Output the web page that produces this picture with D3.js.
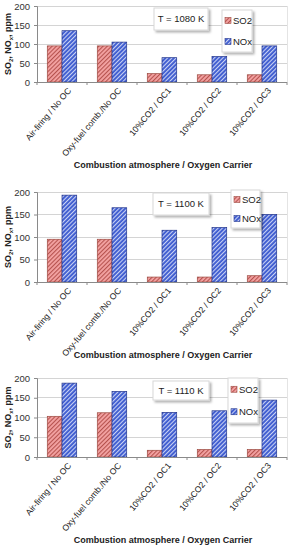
<!DOCTYPE html>
<html><head><meta charset="utf-8">
<script src="https://cdn.jsdelivr.net/npm/d3@7"></script>
<style>body{margin:0;background:#fff}svg{display:block}text{font-family:"Liberation Sans",Arial,sans-serif}</style>
</head><body>
<svg id="c" width="294" height="550"></svg>
<script>
const categories = ["Air-firing / No OC","Oxy-fuel comb./No OC","10%CO2 / OC1","10%CO2 / OC2","10%CO2 / OC3"];
const series = ["SO2","NOx"];
const temps = ["T = 1080 K","T = 1100 K","T = 1110 K"];
const so2_1080 = [95,95,22,19,19];
const nox_1080 = [135,105,64,67,95];
const so2_1100 = [95,95,11,11,14];
const nox_1100 = [193,165,115,121,150];
const so2_1110 = [103,112,17,19,19];
const nox_1110 = [187,166,113,117,144];
const yTicks = [0,50,100,150,200];

const panels = [
  {so2:so2_1080,nox:nox_1080,t:temps[0],top:6,bot:82,xt:168,tb:[154,8,54,22],lg:[222,10,30,42]},
  {so2:so2_1100,nox:nox_1100,t:temps[1],top:192,bot:282,xt:358,tb:[153,193,56,22],lg:[231,190,29,38]},
  {so2:so2_1110,nox:nox_1110,t:temps[2],top:378,bot:457,xt:543,tb:[153,381,56,19],lg:[228,378,30,45]}
];
const svg = d3.select("#c");
const defs = svg.append("defs");
function pat(id,bg,fg){
  const p = defs.append("pattern").attr("id",id).attr("patternUnits","userSpaceOnUse")
    .attr("width",3).attr("height",3).attr("patternTransform","rotate(45)");
  p.append("rect").attr("width",3).attr("height",3).attr("fill",bg);
  p.append("rect").attr("width",1.1).attr("height",3).attr("fill",fg);
}
pat("pS","#f4a3a3","#b5524e");
pat("pN","#3d5bd0","#c9d2f4");
const fills = {SO2:"url(#pS)",NOx:"url(#pN)"};
const strokes = {SO2:"#9b4a40",NOx:"#22348a"};
const filt = defs.append("filter").attr("id","sh").attr("x","-20%").attr("y","-20%").attr("width","150%").attr("height","150%");
filt.append("feDropShadow").attr("dx",2).attr("dy",2).attr("stdDeviation",1.2).attr("flood-color","#000").attr("flood-opacity",0.3);

const L = 37, R = 287;
panels.forEach(P=>{
  const g = svg.append("g");
  const x = d3.scaleBand().domain(categories).range([L,R]);
  const xs = d3.scaleBand().domain(series).range([0,x.bandwidth()]).paddingOuter(0.7).paddingInner(0);
  const y = d3.scaleLinear().domain([0,200]).range([P.bot,P.top]);
  g.append("g").selectAll("line").data(yTicks.slice(1)).join("line")
    .attr("x1",L).attr("x2",R).attr("y1",d=>y(d)).attr("y2",d=>y(d))
    .attr("stroke","#d4d4d4").attr("stroke-width",1).attr("shape-rendering","crispEdges");
  g.append("line").attr("x1",R).attr("x2",R).attr("y1",y(200)).attr("y2",y(0)).attr("stroke","#e4e4e4").attr("shape-rendering","crispEdges");
  categories.forEach((c,i)=>{
    const vals = {SO2:P.so2[i],NOx:P.nox[i]};
    series.forEach(s=>{
      g.append("rect").attr("x",x(c)+xs(s)).attr("width",xs.bandwidth())
        .attr("y",y(vals[s])).attr("height",y(0)-y(vals[s]))
        .attr("fill",fills[s]).attr("stroke",strokes[s]).attr("stroke-width",0.7);
    });
  });
  const ya = g.append("g").attr("transform",`translate(${L},0)`)
    .call(d3.axisLeft(y).tickValues(yTicks).tickSize(3).tickPadding(4));
  ya.select(".domain").attr("stroke","#8a8a8a");
  ya.selectAll(".tick line").attr("stroke","#8a8a8a");
  ya.selectAll("text").attr("font-size",9.5).attr("fill","#333");
  const xa = g.append("g").attr("transform",`translate(0,${P.bot})`);
  xa.append("line").attr("x1",L).attr("x2",R).attr("stroke","#8a8a8a").attr("shape-rendering","crispEdges");
  xa.selectAll("line.tk").data(d3.range(categories.length+1)).join("line").attr("class","tk")
    .attr("x1",d=>L+d*x.step()).attr("x2",d=>L+d*x.step()).attr("y1",0).attr("y2",3)
    .attr("stroke","#8a8a8a");
  xa.selectAll("text").data(categories).join("text")
    .attr("transform",d=>`translate(${x(d)+x.bandwidth()/2+5},5) rotate(-50)`)
    .attr("text-anchor","end").attr("dy","0.7em").attr("font-size",8.6).attr("fill","#222").text(d=>d);
  const yt = g.append("text").attr("transform",`translate(11,${(P.top+P.bot)/2}) rotate(-90)`)
    .attr("text-anchor","middle").attr("font-size",9).attr("font-weight","bold").attr("fill","#222");
  yt.append("tspan").text("SO");
  yt.append("tspan").attr("font-size",6).attr("dy",2).text("2");
  yt.append("tspan").attr("dy",-2).text(", NO");
  yt.append("tspan").attr("font-size",6).attr("dy",2).text("x");
  yt.append("tspan").attr("dy",-2).text(", ppm");
  g.append("text").attr("x",163).attr("y",P.xt).attr("text-anchor","middle")
    .attr("font-size",9).attr("font-weight","bold").attr("fill","#222").text("Combustion atmosphere / Oxygen Carrier");
  const [tx,ty,tw,th] = P.tb;
  g.append("rect").attr("x",tx).attr("y",ty).attr("width",tw).attr("height",th)
    .attr("fill","#fff").attr("stroke","#d8d8d8").attr("filter","url(#sh)");
  g.append("text").attr("x",tx+tw/2).attr("y",ty+th/2).attr("dy","0.35em").attr("text-anchor","middle")
    .attr("font-size",9.5).attr("fill","#222").text(P.t);
  const [lx,ly,lw,lh] = P.lg;
  g.append("rect").attr("x",lx).attr("y",ly).attr("width",lw).attr("height",lh)
    .attr("fill","#fff").attr("stroke","#d8d8d8").attr("filter","url(#sh)");
  series.forEach((s,i)=>{
    const yy = ly + lh*(i===0?0.25:0.75);
    g.append("rect").attr("x",lx+3).attr("y",yy-3).attr("width",6).attr("height",6)
      .attr("fill",fills[s]).attr("stroke",strokes[s]).attr("stroke-width",0.6);
    g.append("text").attr("x",lx+11).attr("y",yy).attr("dy","0.35em").attr("font-size",9.5).attr("fill","#222").text(s);
  });
});
</script>
</body></html>
